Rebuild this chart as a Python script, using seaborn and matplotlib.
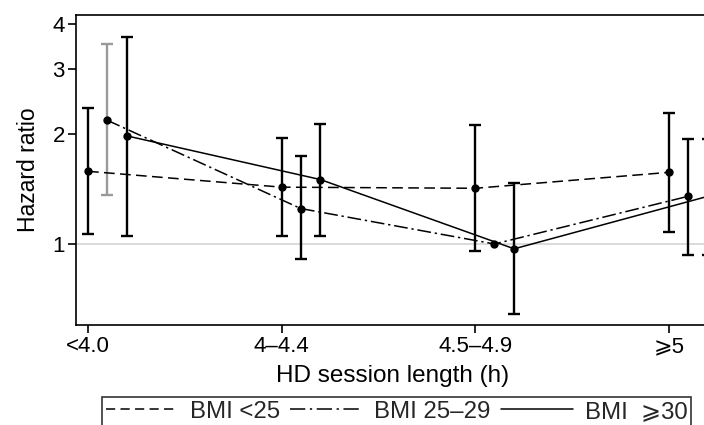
import numpy as np
import pandas as pd
import matplotlib
matplotlib.use("Agg")
import matplotlib.pyplot as plt
from matplotlib.lines import Line2D
import seaborn as sns

# ---------------- data ----------------
categories = ["<4.0", "4\u20134.4", "4.5\u20134.9", "\u2a7e5"]
groups = ["BMI <25", "BMI 25\u201329", "BMI  \u2a7e30"]

hr_lt25 = [1.58, 1.43, 1.42, 1.57]
lo_lt25 = [1.065, 1.05, 0.957, 1.08]
hi_lt25 = [2.35, 1.95, 2.11, 2.28]

hr_25_29 = [2.18, 1.25, 1.00, 1.35]
lo_25_29 = [1.36, 0.908, np.nan, 0.933]
hi_25_29 = [3.52, 1.745, np.nan, 1.94]

hr_ge30 = [1.975, 1.50, 0.97, 1.35]
lo_ge30 = [1.05, 1.05, 0.642, 0.933]
hi_ge30 = [3.69, 2.13, 1.47, 1.94]

y_ticks = [1, 2, 3, 4]

# ---------------- style ----------------
sns.set_theme(style="white")
plt.rcParams["font.family"] = ["Liberation Sans", "DejaVu Sans"]
FS_TICK = 16
FS_XLAB = 17.5
FS_YLAB = 16.5
FS_LEG = 17.3

fig = plt.figure(figsize=(7.04, 4.25), dpi=100)
ax = fig.add_axes([0.108, 0.235, 0.93, 0.73])

centers = np.arange(len(categories))
offsets = [0.0, 0.098, 0.2]

series = [
    (groups[0], hr_lt25, lo_lt25, hi_lt25),
    (groups[1], hr_25_29, lo_25_29, hi_25_29),
    (groups[2], hr_ge30, lo_ge30, hi_ge30),
]

rows = []
for (name, hr, lo, hi), off in zip(series, offsets):
    for c, h, l, u in zip(centers, hr, lo, hi):
        rows.append(dict(group=name, pos=c + off, hr=h, lo=l, hi=u))
df = pd.DataFrame(rows)

dash_styles = {groups[0]: (7, 3.5), groups[1]: (9, 2.5, 1.5, 2.5), groups[2]: ""}
errcolors = {groups[0]: ["black"] * 4,
             groups[1]: ["#9a9a9a", "black", "black", "black"],
             groups[2]: ["black"] * 4}

# reference line at HR = 1
ax.axhline(1, color="#d4d4d4", lw=1.2, zorder=0)

# error bars
for name in groups:
    d = df[df.group == name]
    for (_, r), col in zip(d.iterrows(), errcolors[name]):
        if np.isnan(r.lo):
            continue
        ax.errorbar(r.pos, r.hr, yerr=[[r.hr - r.lo], [r.hi - r.hr]], fmt="none",
                    ecolor=col, elinewidth=1.7, capsize=4, capthick=1.7, zorder=2)

sns.lineplot(data=df, x="pos", y="hr", style="group", style_order=groups,
             dashes=dash_styles, markers={g: "o" for g in groups},
             color="black", lw=1.1, markersize=6, markeredgewidth=0,
             sort=True, legend=False, ax=ax, zorder=3)

ax.set_yscale("log")
ax.set_ylim(0.6, 4.23)
ax.set_xlim(-0.062, 3.318)
ax.set_yticks(y_ticks)
ax.set_yticklabels([str(t) for t in y_ticks])
ax.yaxis.set_minor_locator(matplotlib.ticker.NullLocator())
ax.set_xticks(centers)
ax.set_xticklabels(categories)

for s in ["left", "top", "bottom"]:
    ax.spines[s].set_visible(True)
    ax.spines[s].set_color("black")
    ax.spines[s].set_linewidth(1.2)
ax.spines["right"].set_visible(False)

ax.tick_params(axis="both", which="major", direction="out", length=5.5, width=1.2,
               color="black", labelsize=FS_TICK, labelcolor="black", pad=2.5,
               bottom=True, left=True)

ax.set_xlabel("HD session length (h)", fontsize=FS_XLAB, color="black")
ax.set_ylabel("Hazard ratio", fontsize=FS_YLAB, color="black")
ax.xaxis.set_label_coords(0.483, -0.127)
ax.yaxis.set_label_coords(-0.055, 0.5)

handles = [Line2D([], [], color="black", lw=1.1, dashes=(6, 3.5)),
           Line2D([], [], color="black", lw=1.1, dashes=(10, 3, 1.5, 3)),
           Line2D([], [], color="black", lw=1.1)]
leg = fig.legend(handles, groups, loc="upper left", bbox_to_anchor=(0.145, 0.066),
                 ncol=3, frameon=True, fancybox=False, fontsize=FS_LEG,
                 handlelength=3.0, handletextpad=0.5, columnspacing=0.42,
                 borderpad=0.15, borderaxespad=0)
leg.get_frame().set_edgecolor("black")
leg.get_frame().set_linewidth(1.2)

fig.savefig("out.png", dpi=100)
